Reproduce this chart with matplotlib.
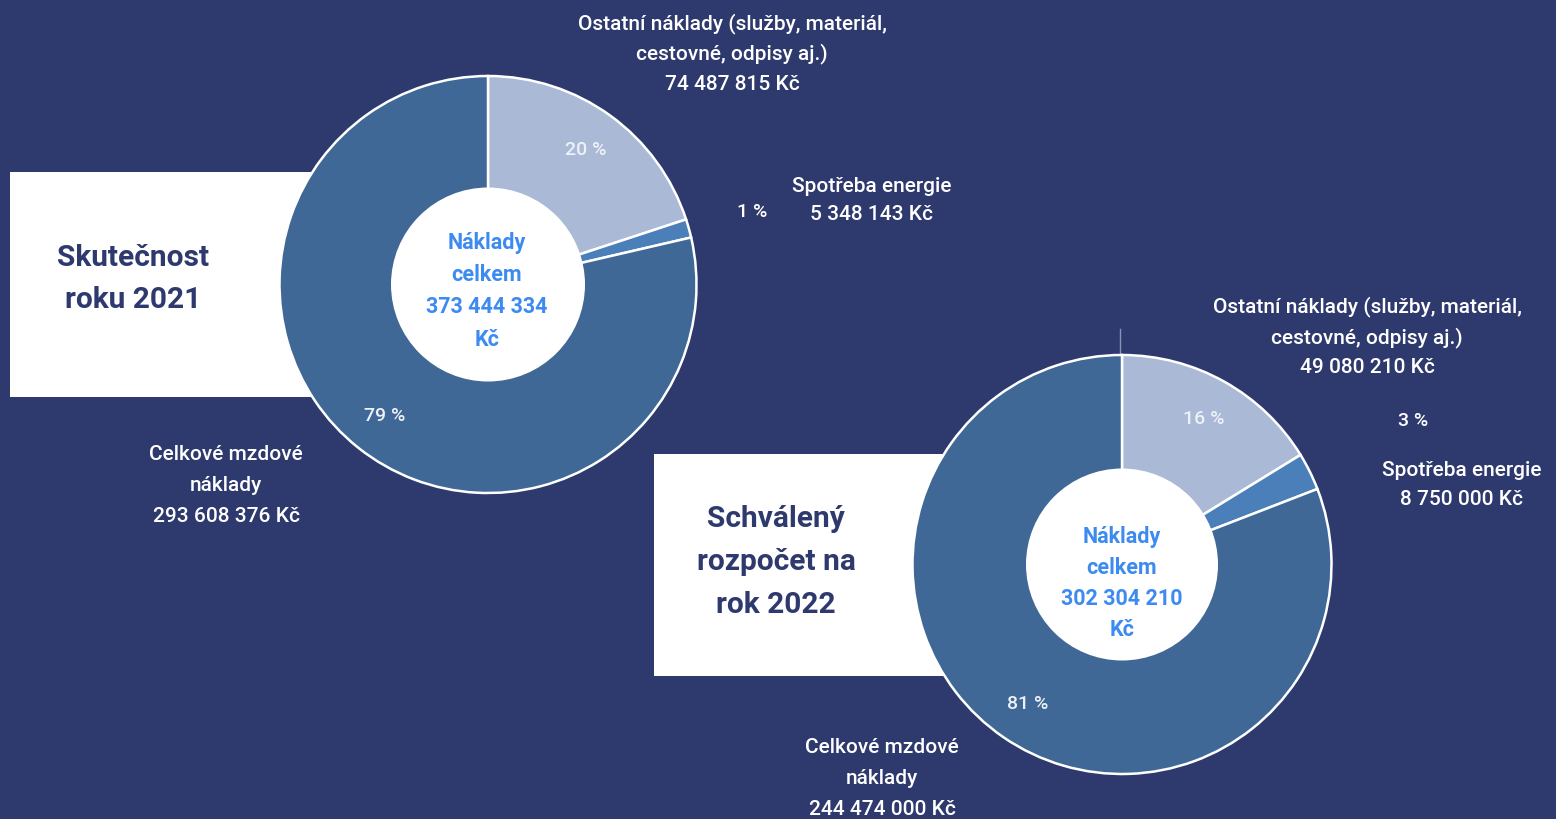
import matplotlib.pyplot as plt
from matplotlib.patches import Rectangle, Circle

W, H = 1556, 820

# data
labels = ["Ostatní náklady", "Spotřeba energie", "Celkové mzdové náklady"]
values_2021 = [74487815, 5348143, 293608376]
values_2022 = [49080210, 8750000, 244474000]
total_2021 = "373 444 334"
total_2022 = "302 304 210"

bg = "#2e3a6e"
colors = ["#a9b9d6", "#4a7fba", "#406897"]
center_blue = "#3d8bf0"

plt.rcParams['font.family'] = ['Roboto', 'DejaVu Sans']

fig = plt.figure(figsize=(W / 100, H / 100), dpi=100, facecolor=bg)
ax = fig.add_axes([0, 0, 1, 1])
ax.set_facecolor(bg)


def py(y):
    # pixel row -> data y (y up)
    return H - y


def lines(x, ys, texts, **kw):
    for y, t in zip(ys, texts):
        ax.text(x, py(y), t, ha='center', va='center', **kw)


def donut(vals, cx, cy, r, r_in, small_dist):
    wedges, _, pcts = ax.pie(vals, colors=colors, center=(cx, py(cy)), radius=r,
                             startangle=90, counterclock=False,
                             autopct=lambda p: f"{p:.0f} %", pctdistance=0.8,
                             wedgeprops=dict(edgecolor='white', linewidth=1.8),
                             textprops=dict(color='#eef1f7', fontsize=14, fontweight='medium'))
    # small slice label sits outside
    tx, ty = pcts[1].get_position()
    pcts[1].set_position((cx + (tx - cx) / 0.8 * small_dist,
                          py(cy) + (ty - py(cy)) / 0.8 * small_dist))
    pcts[1].set_color('white')
    ax.add_patch(Circle((cx, py(cy)), r_in, facecolor='white', edgecolor='none', zorder=3))


# title boxes behind the pies
ax.add_patch(Rectangle((10, py(398)), 320, 225, facecolor='white', edgecolor='none', zorder=0))
ax.add_patch(Rectangle((654, py(677)), 320, 222, facecolor='white', edgecolor='none', zorder=0))

donut(values_2021, 488, 285.5, 208.5, 97, 1.315)
donut(values_2022, 1122, 565.5, 209.5, 96, 1.55)
ax.plot([1120, 1120], [py(330), py(356)], color='#8a93b5', lw=1, zorder=0)

ax.set_xlim(0, W)
ax.set_ylim(0, H)
ax.set_aspect('equal')
ax.axis('off')

lab = dict(color='white', fontsize=15, fontweight='medium')
ttl = dict(color=bg, fontsize=21.5, fontweight='bold')
ctr = dict(color=center_blue, fontsize=15.5, fontweight='bold', zorder=4)

# 2021
lines(732, [24, 54, 84], ["Ostatní náklady (služby, materiál,", "cestovné, odpisy aj.)",
                          "74 487 815 Kč"], **lab)
lines(872, [186, 215], ["Spotřeba energie", "5 348 143 Kč"], **lab)
lines(226, [455, 486, 517], ["Celkové mzdové", "náklady", "293 608 376 Kč"], **lab)
lines(133, [258, 300], ["Skutečnost", "roku 2021"], **ttl)
lines(487, [243, 275, 307, 340], ["Náklady", "celkem", total_2021, "Kč"], **ctr)

# 2022
lines(1367, [307, 338, 368], ["Ostatní náklady (služby, materiál,", "cestovné, odpisy aj.)",
                              "49 080 210 Kč"], **lab)
lines(1462, [471, 500], ["Spotřeba energie", "8 750 000 Kč"], **lab)
lines(882, [748, 779, 810], ["Celkové mzdové", "náklady", "244 474 000 Kč"], **lab)
lines(776, [519, 562, 605], ["Schválený", "rozpočet na", "rok 2022"], **ttl)
lines(1122, [537, 568, 599, 630], ["Náklady", "celkem", total_2022, "Kč"], **ctr)

fig.savefig('out.png', dpi=100, facecolor=bg)
